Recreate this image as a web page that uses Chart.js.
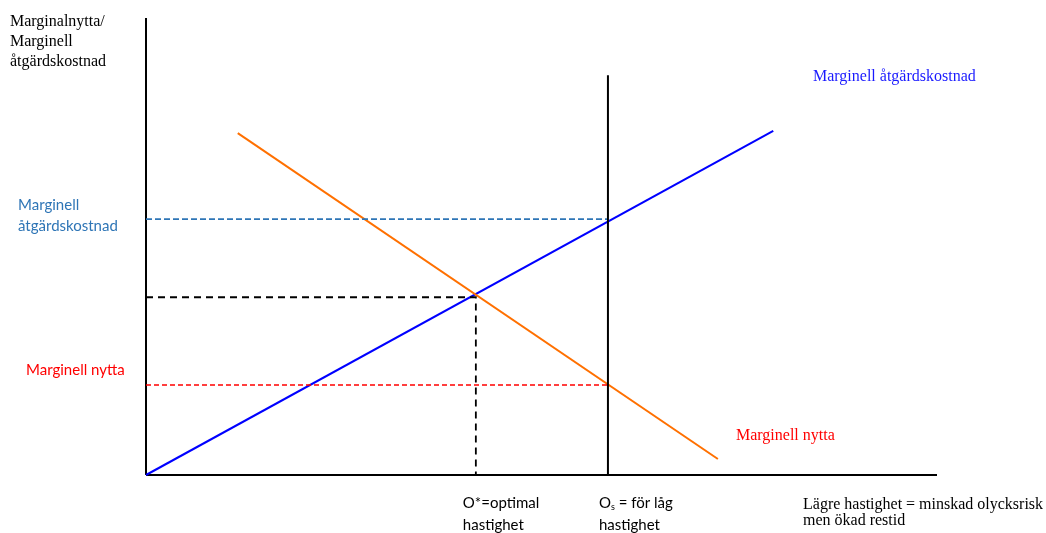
<!DOCTYPE html>
<html>
<head>
<meta charset="utf-8">
<script src="https://cdn.jsdelivr.net/npm/chart.js@4"></script>
<style>
  body { margin: 0; background: #fff; }
</style>
</head>
<body>
<canvas id="diagram" width="1046" height="533"></canvas>
<script>
// values in axis units, 0..100 on both axes
var axisMax = [0, 100];
var kostnadX = [0, 79.3];
var kostnadY = [0, 75.3];
var nyttaX = [11.6, 72.3];
var nyttaY = [74.8, 3.5];
var optimalX = 41.7;
var optimalY = 38.9;
var lagX = 58.4;
var lagTop = 87.5;
var kostnadNivå = 56.0;
var nyttaNivå = 19.7;

function pts(xs, ys) {
    var out = [];
    for (var i = 0; i < xs.length; i++) out.push({ x: xs[i], y: ys[i] });
    return out;
}

function linje(data, color, width, dash) {
    return {
        data: data,
        borderColor: color,
        borderWidth: width,
        borderDash: dash || [],
        pointRadius: 0,
        fill: false,
        clip: false,
        tension: 0
    };
}

var texter = {
    id: "texter",
    afterDatasetsDraw: function(chart) {
        var ctx = chart.ctx;
        var xs = chart.scales.x, ys = chart.scales.y;
        ctx.save();
        ctx.textBaseline = "middle";
        ctx.textAlign = "left";

        ctx.fillStyle = "#000";
        ctx.font = "16px 'Liberation Serif'";
        ["Marginalnytta/", "Marginell", "åtgärdskostnad"].forEach(function(t, i) {
            ctx.fillText(t, 10, 21.5 + i * 20);
        });

        ctx.fillStyle = "#2E75B6";
        ctx.font = "15px Lato";
        ctx.fillText("Marginell", 18, ys.getPixelForValue(kostnadNivå) - 14);
        ctx.fillText("åtgärdskostnad", 18, ys.getPixelForValue(kostnadNivå) + 7);

        ctx.fillStyle = "#FF0000";
        ctx.fillText("Marginell nytta", 26, ys.getPixelForValue(nyttaNivå) - 15);

        ctx.fillStyle = "#1A1AFF";
        ctx.font = "16px 'Liberation Serif'";
        ctx.fillText("Marginell åtgärdskostnad", 813, 77);

        ctx.fillStyle = "#FF0000";
        ctx.fillText("Marginell nytta", 736, 436);

        ctx.fillStyle = "#000";
        ctx.font = "15px Lato";
        var ox = xs.getPixelForValue(optimalX) - 13;
        ctx.fillText("O*=optimal", ox, 503);
        ctx.fillText("hastighet", ox, 525);

        var lx = xs.getPixelForValue(lagX) - 9;
        ctx.fillText("O", lx, 503);
        var w = ctx.measureText("O").width;
        ctx.font = "9px Lato";
        ctx.fillText("s", lx + w, 507);
        var ws = ctx.measureText("s").width;
        ctx.font = "15px Lato";
        ctx.fillText(" = för låg", lx + w + ws, 503);
        ctx.fillText("hastighet", lx, 525);

        ctx.font = "16px 'Liberation Serif'";
        ctx.fillText("Lägre hastighet = minskad olycksrisk", 803, 505);
        ctx.fillText("men ökad restid", 803, 521);
        ctx.restore();
    }
};

new Chart(document.getElementById("diagram"), {
    type: "line",
    data: {
        datasets: [
            linje(pts([lagX, lagX], [0, lagTop]), "#000", 2),
            linje(pts([0, lagX], [kostnadNivå, kostnadNivå]), "#2E75B6", 1.6, [6, 3]),
            linje(pts([0, lagX], [nyttaNivå, nyttaNivå]), "#FF0000", 1.6, [5, 3]),
            linje(pts([0, optimalX, optimalX], [optimalY, optimalY, 0]), "#000", 1.8, [7, 5]),
            linje(pts(nyttaX, nyttaY), "#FF7000", 2),
            linje(pts(kostnadX, kostnadY), "#0000FF", 2),
            linje(pts([0, 0], axisMax), "#000", 2),
            linje(pts(axisMax, [0, 0]), "#000", 2)
        ]
    },
    options: {
        responsive: false,
        animation: false,
        devicePixelRatio: 1,
        layout: { padding: { left: 146, right: 109, top: 18, bottom: 58 } },
        plugins: { legend: { display: false }, tooltip: { enabled: false } },
        scales: {
            x: { type: "linear", min: 0, max: 100, display: false },
            y: { type: "linear", min: 0, max: 100, display: false }
        }
    },
    plugins: [texter]
});
</script>
</body>
</html>
